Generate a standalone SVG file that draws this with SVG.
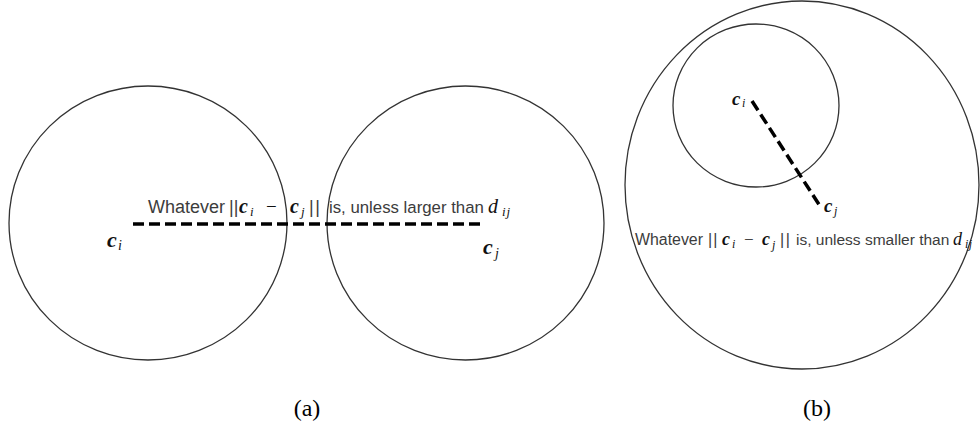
<svg xmlns="http://www.w3.org/2000/svg" width="980" height="430" viewBox="0 0 980 430">
<style>
.circ{fill:none;stroke:#333;stroke-width:1.3}
.dash{stroke:#000;stroke-width:3.5;stroke-dasharray:11 5;fill:none}
.t{font-family:"Liberation Sans","Open Sans",sans-serif;fill:#3c3c3c}
.m{font-family:"Liberation Serif",serif;font-style:italic;font-weight:bold;fill:#111}
.mi{font-family:"Liberation Serif",serif;font-style:italic;fill:#111}
.cap{font-family:"Liberation Serif",serif;font-size:24px;fill:#000;text-anchor:middle}
</style>
<rect width="980" height="430" fill="#fff"/>
<g id="panel-a">
  <ellipse id="circle-a-i" class="circ" cx="148" cy="223" rx="139" ry="137"/>
  <ellipse id="circle-a-j" class="circ" cx="465.5" cy="223" rx="138.5" ry="137"/>
  <g id="label-a-ci">
    <text class="m" x="107" y="247" font-size="22">c</text>
    <text class="mi" x="118" y="250" font-size="14">i</text>
  </g>
  <g id="label-a-cj">
    <text class="m" x="483" y="254" font-size="22">c</text>
    <text class="mi" x="495" y="258" font-size="14">j</text>
  </g>
  <g id="text-a">
    <text class="t" x="148" y="212.5" font-size="18" textLength="77" lengthAdjust="spacingAndGlyphs">Whatever</text>
    <text class="t" x="229" y="212.5" font-size="18">||</text>
    <text class="m" x="239" y="212.5" font-size="20">c</text>
    <text class="mi" x="250" y="215.5" font-size="13">i</text>
    <text class="mi" x="266" y="212.5" font-size="19" style="font-style:normal">−</text>
    <text class="m" x="290" y="212.5" font-size="20">c</text>
    <text class="mi" x="301" y="216" font-size="13">j</text>
    <text class="t" x="309" y="212.5" font-size="18" letter-spacing="1.5">||</text>
    <text class="t" x="329" y="212.5" font-size="16.8">is, unless larger than</text>
    <text class="mi" x="488" y="212.5" font-size="20">d</text>
    <text class="mi" x="502" y="216" font-size="13" letter-spacing="1">ij</text>
  </g>
  <text id="cap-a" class="cap" x="307" y="416">(a)</text>
</g>
<g id="panel-b">
  <ellipse id="circle-b-outer" class="circ" cx="802" cy="185" rx="177" ry="184"/>
  <ellipse id="circle-b-inner" class="circ" cx="756" cy="105.5" rx="83" ry="81.5"/>
  <g id="label-b-ci">
    <text class="m" x="732" y="105" font-size="19">c</text>
    <text class="mi" x="742" y="107" font-size="12">i</text>
  </g>
  <g id="label-b-cj">
    <text class="m" x="824" y="212" font-size="19">c</text>
    <text class="mi" x="834" y="215" font-size="12">j</text>
  </g>
  <g id="text-b">
    <text class="t" x="635" y="245" font-size="16" textLength="68" lengthAdjust="spacingAndGlyphs">Whatever</text>
    <text class="t" x="708" y="245" font-size="16" letter-spacing="1">||</text>
    <text class="m" x="722" y="245" font-size="18">c</text>
    <text class="mi" x="732" y="248" font-size="12">i</text>
    <text class="mi" x="744" y="245" font-size="17" style="font-style:normal">−</text>
    <text class="m" x="762" y="245" font-size="18">c</text>
    <text class="mi" x="772" y="248.5" font-size="12">j</text>
    <text class="t" x="780" y="245" font-size="16" letter-spacing="1.5">||</text>
    <text class="t" x="796" y="245" font-size="15.5">is, unless smaller than</text>
    <text class="mi" x="953" y="245" font-size="18">d</text>
    <text class="mi" x="965" y="248" font-size="12" letter-spacing="0.5">ij</text>
  </g>
  <text id="cap-b" class="cap" x="817" y="416">(b)</text>
</g>
<g id="connectors">
  <line class="dash" x1="133" y1="224" x2="484" y2="224"/>
  <line class="dash" x1="752" y1="101" x2="820" y2="206"/>
</g>
</svg>
